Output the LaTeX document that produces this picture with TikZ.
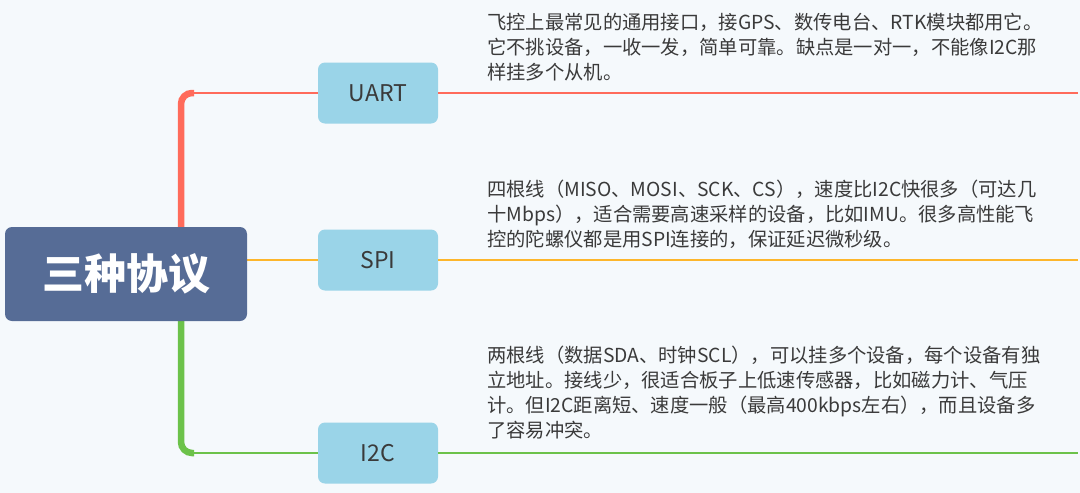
\documentclass[tikz,border=0pt]{standalone}
\usepackage{fontspec}
\setmainfont{Noto Sans CJK SC}
\begin{document}
\begin{tikzpicture}[x=1pt,y=-1pt,
  sub/.style={draw=none,fill=subc,rounded corners=7pt,minimum width=120pt,minimum height=61pt,font=\fontsize{23}{26}\selectfont,text=txt},
  desc/.style={anchor=north west,align=left,inner sep=0pt,font=\fontsize{19.3}{25}\selectfont,text=txt}]
\definecolor{bg}{HTML}{F5F9FC}
\definecolor{subc}{HTML}{9AD4E8}
\definecolor{rootc}{HTML}{566C96}
\definecolor{txt}{HTML}{3A3A3A}
\definecolor{cr}{HTML}{FF6B5B}
\definecolor{co}{HTML}{FDB62B}
\definecolor{cg}{HTML}{6CC24A}
\fill[bg] (0,0) rectangle (1080,493);
\useasboundingbox (0,0) rectangle (1080,493);
\node[sub] (uart) at (378,93) {UART};
\node[sub] (spi) at (378,260) {SPI};
\node[sub] (i2c) at (378,453) {I2C};
\coordinate (ue) at (1078,93);
\coordinate (se) at (1078,260);
\coordinate (ie) at (1078,453);
\coordinate (rt) at (181,228);
\coordinate (rb) at (181,320);
\draw[cr,line width=6.5pt,rounded corners=11pt] (rt) -- (181,93) -- (194,93);
\draw[cr,line width=2.5pt] (190,93) -- (uart.west);
\draw[cg,line width=6.5pt,rounded corners=11pt] (rb) -- (181,453) -- (194,453);
\draw[cg,line width=2.5pt] (190,453) -- (i2c.west);
\draw[co,line width=2.5pt] (246,260) -- (spi.west);
\draw[cr,line width=2pt] (uart.east) -- (ue);
\draw[co,line width=2pt] (spi.east) -- (se);
\draw[cg,line width=2pt] (i2c.east) -- (ie);
\node[fill=rootc,rounded corners=7pt,minimum width=242pt,minimum height=94pt,text=white,font=\fontsize{42}{44}\selectfont\bfseries] (root) at (126,274) {三种协议};
\node[desc] (t1) at (487,13) {飞控上最常见的通用接口，接GPS、数传电台、RTK模块都用它。\\它不挑设备，一收一发，简单可靠。缺点是一对一，不能像I2C那\\样挂多个从机。};
\node[desc] (t2) at (487,180) {四根线（MISO、MOSI、SCK、CS），速度比I2C快很多（可达几\\十Mbps），适合需要高速采样的设备，比如IMU。很多高性能飞\\控的陀螺仪都是用SPI连接的，保证延迟微秒级。};
\node[desc] (t3) at (487,346) {两根线（数据SDA、时钟SCL），可以挂多个设备，每个设备有独\\立地址。接线少，很适合板子上低速传感器，比如磁力计、气压\\计。但I2C距离短、速度一般（最高400kbps左右），而且设备多\\了容易冲突。};
\end{tikzpicture}
\end{document}
